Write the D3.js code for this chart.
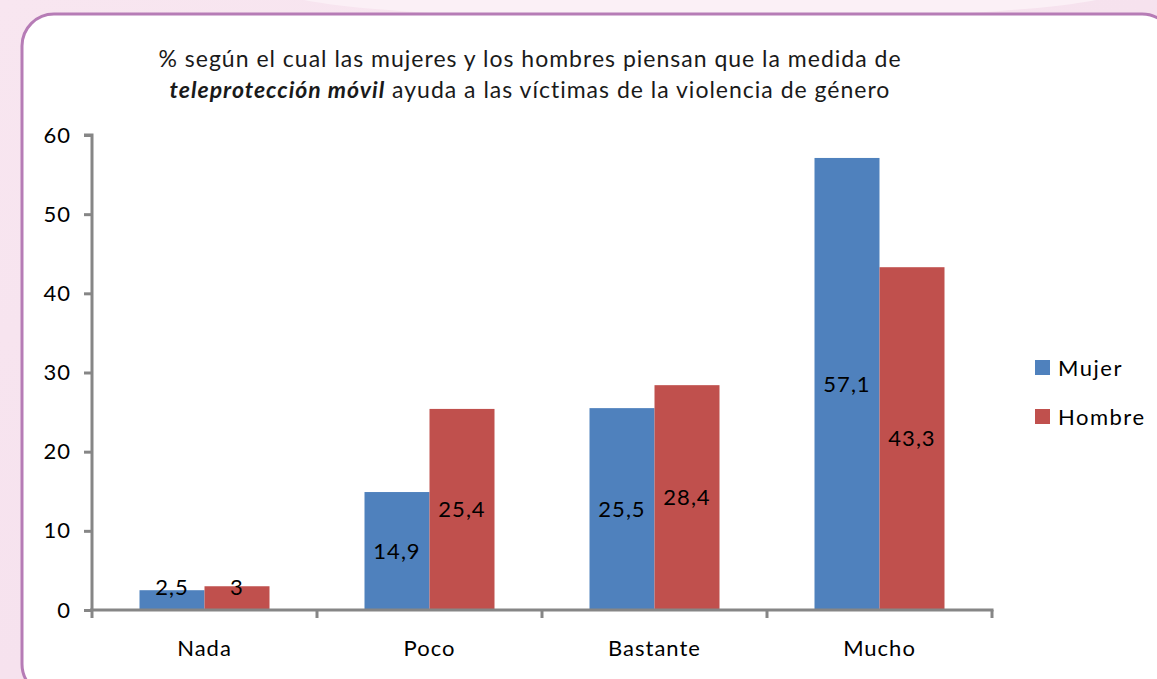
<!DOCTYPE html>
<html>
<head>
<meta charset="utf-8">
<script src="https://cdn.jsdelivr.net/npm/d3@7"></script>
<style>
  html, body { margin: 0; padding: 0; }
  body { width: 1157px; height: 679px; overflow: hidden; }
  svg { display: block; font-family: Lato, "Open Sans", "DejaVu Sans", sans-serif; }
</style>
</head>
<body>
<svg id="chart" width="1157" height="679"></svg>
<script>
// Survey answers: how much mobile teleprotection helps victims of gender violence
const categories = ["Nada", "Poco", "Bastante", "Mucho"];
const seriesNames = ["Mujer", "Hombre"];
const mujer = [2.5, 14.9, 25.5, 57.1];
const hombre = [3, 25.4, 28.4, 43.3];
const yTicks = [0, 10, 20, 30, 40, 50, 60];
const seriesColors = ["#4f81bd", "#c0504d"];

const svg = d3.select("#chart");
const fmt = v => String(v).replace(".", ",");

// Page background and rounded panel
const defs = svg.append("defs");
const bg = defs.append("linearGradient").attr("id", "bg")
  .attr("x1", "0").attr("y1", "0").attr("x2", "1").attr("y2", "1");
bg.append("stop").attr("offset", "0").attr("stop-color", "#f8e6f0");
bg.append("stop").attr("offset", "0.5").attr("stop-color", "#f6e2ee");
bg.append("stop").attr("offset", "1").attr("stop-color", "#f4dcea");
svg.append("rect").attr("width", 1157).attr("height", 679).attr("fill", "url(#bg)");
svg.append("ellipse").attr("cx", 700).attr("cy", -10).attr("rx", 420).attr("ry", 30)
  .attr("fill", "#fbf0f6");
svg.append("rect")
  .attr("x", 22).attr("y", 14).attr("width", 1152).attr("height", 682)
  .attr("rx", 32).attr("ry", 32)
  .attr("fill", "#ffffff").attr("stroke", "#b67cb6").attr("stroke-width", 3);

// Scales
const x0 = d3.scaleBand().domain(categories).range([92, 992]).paddingInner(0).paddingOuter(0);
const x1 = d3.scaleBand().domain(seriesNames).range([0, 130]);
const y = d3.scaleLinear().domain([0, 60]).range([610, 135]);
const groupOffset = (x0.bandwidth() - 130) / 2;

// Title
const title = svg.append("text").attr("text-anchor", "middle").attr("fill", "#1a1a1a")
  .style("font-size", "23px").style("letter-spacing", "1px");
title.append("tspan").attr("x", 530).attr("y", 67)
  .text("% según el cual las mujeres y los hombres piensan que la medida de");
const t2 = title.append("tspan").attr("x", 530).attr("y", 98);
t2.append("tspan").style("font-weight", "bold").style("font-style", "italic")
  .text("teleprotección  móvil");
t2.append("tspan").text(" ayuda a las víctimas de la violencia de género");

// Bars
const rows = categories.map((c, i) => ({ cat: c, values: [mujer[i], hombre[i]] }));
const groups = svg.append("g").selectAll("g").data(rows).join("g")
  .attr("transform", d => `translate(${x0(d.cat) + groupOffset},0)`);

groups.selectAll("rect").data(d => d.values.map((v, j) => ({ v, s: seriesNames[j], j })))
  .join("rect")
  .attr("x", d => x1(d.s))
  .attr("width", x1.bandwidth())
  .attr("y", d => y(d.v))
  .attr("height", d => y(0) - y(d.v))
  .attr("fill", d => seriesColors[d.j]);

// Value labels, centred in each bar (lifted above very short bars)
groups.selectAll("text").data(d => d.values.map((v, j) => ({ v, s: seriesNames[j] })))
  .join("text")
  .attr("x", d => x1(d.s) + x1.bandwidth() / 2)
  .attr("y", d => Math.min((y(d.v) + y(0)) / 2, y(0) - 23))
  .attr("dy", "0.35em")
  .attr("text-anchor", "middle")
  .attr("fill", "#000")
  .style("font-size", "22px")
  .style("letter-spacing", "1px")
  .text(d => fmt(d.v));

// Axes
const axisColor = "#868686";
const yAxis = svg.append("g").attr("transform", "translate(92,0)")
  .call(d3.axisLeft(y).tickValues(yTicks).tickSize(8).tickPadding(13));
yAxis.select(".domain").attr("stroke", axisColor).attr("stroke-width", 3)
  .attr("d", "M-8,135H0V610");
yAxis.selectAll(".tick line").attr("stroke", axisColor).attr("stroke-width", 3);
yAxis.selectAll(".tick text").style("font-size", "22px").attr("fill", "#000")
  .style("letter-spacing", "1px")
  .style("font-family", "Lato, 'Open Sans', sans-serif");

const xAxis = svg.append("g").attr("transform", "translate(0,610)");
xAxis.append("line").attr("x1", 90).attr("x2", 993.5).attr("y1", 0).attr("y2", 0)
  .attr("stroke", axisColor).attr("stroke-width", 3);
const boundaries = categories.map(c => x0(c)).concat([x0(categories[categories.length - 1]) + x0.bandwidth()]);
xAxis.selectAll("line.tk").data(boundaries).join("line").attr("class", "tk")
  .attr("x1", d => d).attr("x2", d => d).attr("y1", 0).attr("y2", 8)
  .attr("stroke", axisColor).attr("stroke-width", 3);
xAxis.selectAll("text").data(categories).join("text")
  .attr("x", d => x0(d) + x0.bandwidth() / 2)
  .attr("y", 46)
  .attr("text-anchor", "middle")
  .attr("fill", "#000")
  .style("font-size", "22px")
  .style("letter-spacing", "1px")
  .text(d => d);

// Legend
const legend = svg.append("g").attr("transform", "translate(1035,360)");
const li = legend.selectAll("g").data(seriesNames).join("g")
  .attr("transform", (d, i) => `translate(0,${i * 49})`);
li.append("rect").attr("width", 15).attr("height", 15)
  .attr("fill", (d, i) => seriesColors[i]);
li.append("text").attr("x", 23).attr("y", 8).attr("dy", "0.35em")
  .attr("fill", "#000").style("font-size", "22px").style("letter-spacing", "1.5px")
  .text(d => d);
</script>
</body>
</html>
